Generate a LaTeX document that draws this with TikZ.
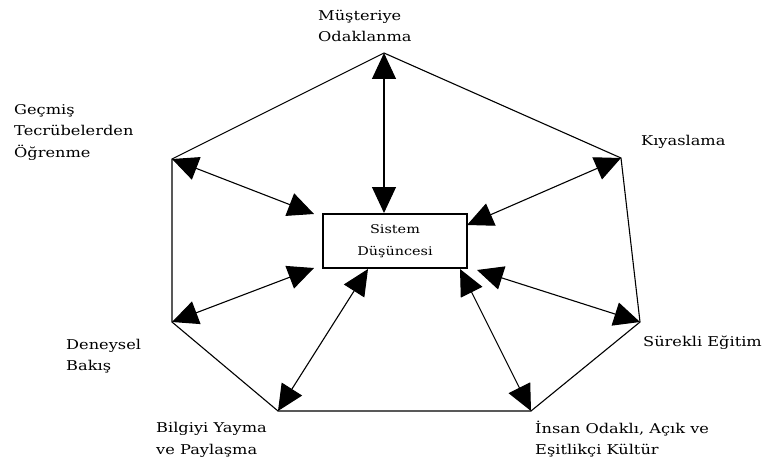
\documentclass[tikz,border=0pt]{standalone}
\usepackage{fontspec}
\setmainfont{DejaVu Serif}[FakeStretch=1.2]
\usetikzlibrary{arrows.meta}
\begin{document}
\begin{tikzpicture}[x=1pt,y=-1pt,
  edge/.style={line width=1.1pt},
  link/.style={line width=1.1pt,{Triangle[length=26pt,width=24pt]}-{Triangle[length=26pt,width=24pt]}},
  lbl/.style={inner sep=0pt,align=left,font=\fontsize{13.5}{21.5}\selectfont},
  core/.style={draw,line width=1.1pt,minimum width=144pt,minimum height=54pt,inner sep=0pt,align=center,font=\fontsize{12}{21.5}\selectfont}]
\useasboundingbox (0,0) rectangle (763,468);

% outer heptagon corners
\coordinate (top) at (384,53);
\coordinate (ul) at (172,159);
\coordinate (ll) at (172,322);
\coordinate (bl) at (278,411);
\coordinate (br) at (531,411);
\coordinate (lr) at (640,322);
\coordinate (ur) at (621,158);
\draw[edge] (top) -- (ur) -- (lr) -- (br) -- (bl) -- (ll) -- (ul) -- cycle;

% central box
\node[core] (sys) at (395,241) {Sistem\\Düşüncesi};

% arrow ends near the box
\coordinate (eT) at (384,213);
\coordinate (eUL) at (314,214);
\coordinate (eLL) at (314,268);
\coordinate (eBL) at (368,269);
\coordinate (eBR) at (460,269);
\coordinate (eLR) at (477,270);
\coordinate (eUR) at (467,225);

\draw[link] (top) -- (eT);
\draw[link] (ul) -- (eUL);
\draw[link] (ll) -- (eLL);
\draw[link] (bl) -- (eBL);
\draw[link] (br) -- (eBR);
\draw[link] (lr) -- (eLR);
\draw[link] (ur) -- (eUR);

% labels
\node[lbl,anchor=west] (l1) at (318,26) {Müşteriye\\Odaklanma};
\node[lbl,anchor=west] (l2) at (14,132) {Geçmiş\\Tecrübelerden\\Öğrenme};
\node[lbl,anchor=west] (l3) at (641,142) {Kıyaslama};
\node[lbl,anchor=west] (l4) at (643,343) {Sürekli Eğitim};
\node[lbl,anchor=west] (l5) at (66,356) {Deneysel\\Bakış};
\node[lbl,anchor=west] (l6) at (156,440) {Bilgiyi Yayma\\ve Paylaşma};
\node[lbl,anchor=west] (l7) at (535,439) {İnsan Odaklı, Açık ve\\Eşitlikçi Kültür};
\end{tikzpicture}
\end{document}
